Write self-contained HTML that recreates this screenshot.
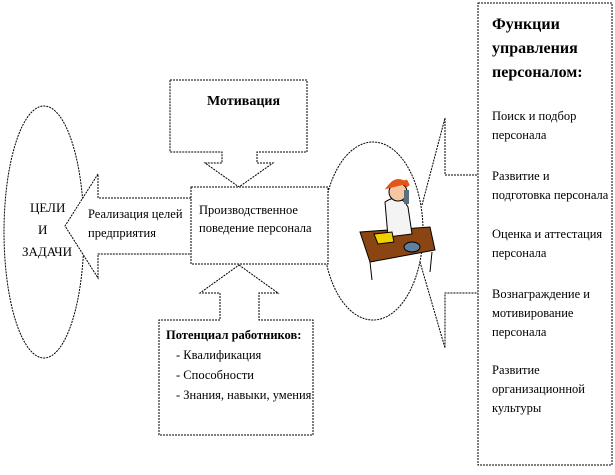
<!DOCTYPE html>
<html><head><meta charset="utf-8"><style>
body{margin:0;background:#fff;}
svg text{font-family:"Liberation Serif",serif;fill:#000;}
</style></head><body>
<svg width="615" height="470" viewBox="0 0 615 470" xmlns="http://www.w3.org/2000/svg">
<g fill="#fff" stroke="#000" stroke-width="1" stroke-dasharray="2,1">
<ellipse cx="44" cy="232" rx="40" ry="126"/>
<path d="M191,198 L98,198 L98,174 L65,226 L98,278 L98,254 L191,254"/>
<path d="M170,80 H307 V152 H257 V163 H273 L239,187 L205,163 H222 V152 H170 Z"/>
<ellipse cx="373" cy="231" rx="50" ry="89"/>
<path d="M422,205 L445,118 V175 H478" fill="none"/>
<path d="M420,262 L445,348 V293 H478" fill="none"/>
<rect x="191" y="187" width="137" height="77"/>
<path d="M239,265 L278,293 H259 V320 H313 V435 H159 V320 H220 V293 H200 Z"/>
<rect x="478" y="3" width="134" height="462"/>
</g>
<g transform="translate(340,172)">
<path d="M20,60 L90,55 L95,78 L30,90 Z" fill="#8b4513" stroke="#000"/>
<path d="M30,90 L32,108 M92,80 L90,100" stroke="#000"/>
<path d="M45,30 Q60,20 68,35 L72,62 L48,65 Z" fill="#f4f4f4" stroke="#000"/>
<circle cx="58" cy="20" r="9" fill="#f5c7a0" stroke="#000"/>
<path d="M50,14 Q58,4 68,14 L66,10 Z" fill="#e2561c" stroke="#e2561c" stroke-width="4"/>
<rect x="64" y="18" width="5" height="14" fill="#5a7080"/>
<path d="M34,62 L52,60 L54,70 L38,72 Z" fill="#f0d000" stroke="#000"/>
<ellipse cx="72" cy="75" rx="8" ry="5" fill="#6080a0" stroke="#000"/>
</g>
<g font-size="13">
<text x="30" y="212">ЦЕЛИ</text>
<text x="38" y="234">И</text>
<text x="22" y="256">ЗАДАЧИ</text>
<text x="88" y="218" font-size="12.5">Реализация целей</text>
<text x="88" y="237" font-size="12.5">предприятия</text>
<text x="199" y="214" font-size="12.5">Производственное</text>
<text x="199" y="232" font-size="12.5">поведение персонала</text>
<text x="207" y="105" font-weight="bold" font-size="14">Мотивация</text>
<text x="166" y="339" font-weight="bold" font-size="12.5">Потенциал работников:</text>
<text x="176" y="359" font-size="12.5">- Квалификация</text>
<text x="176" y="379" font-size="12.5">- Способности</text>
<text x="176" y="399" font-size="12.5">- Знания, навыки, умения</text>
<g font-size="12.5">
<text x="492" y="29" font-weight="bold" font-size="16">Функции</text>
<text x="492" y="53" font-weight="bold" font-size="16">управления</text>
<text x="492" y="77" font-weight="bold" font-size="16">персоналом:</text>
<text x="492" y="120">Поиск и подбор</text>
<text x="492" y="139">персонала</text>
<text x="492" y="180">Развитие и</text>
<text x="492" y="199">подготовка персонала</text>
<text x="492" y="238">Оценка и аттестация</text>
<text x="492" y="257">персонала</text>
<text x="492" y="298">Вознаграждение и</text>
<text x="492" y="317">мотивирование</text>
<text x="492" y="336">персонала</text>
<text x="492" y="374">Развитие</text>
<text x="492" y="393">организационной</text>
<text x="492" y="412">культуры</text>
</g>
</g>
</svg>
</body></html>
